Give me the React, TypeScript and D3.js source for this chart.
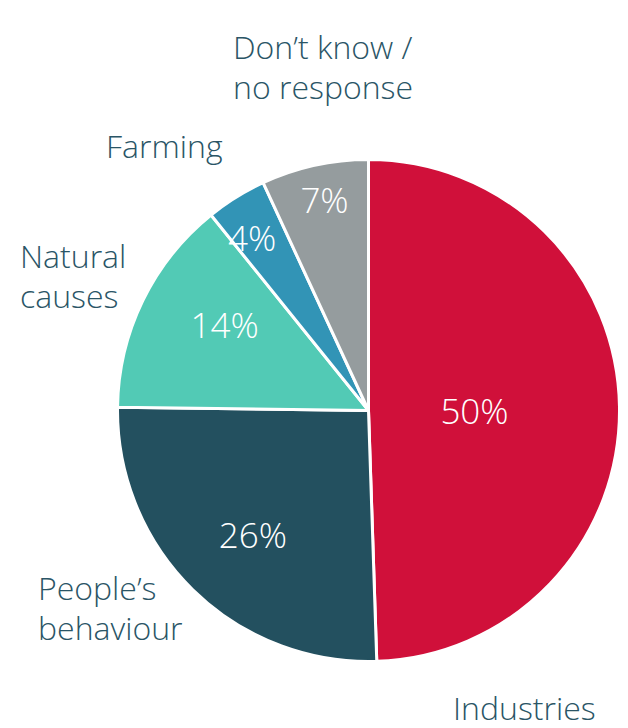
import React from "react";
import * as d3 from "d3";

const categories = ["Industries", "People\u2019s behaviour", "Natural causes", "Farming", "Don\u2019t know / no response"];
const values = [49.5, 25.75, 14, 3.9, 6.9];
const valueLabels = ["50%", "26%", "14%", "4%", "7%"];
const colors = ["#D0103A", "#23505F", "#52CAB5", "#3294B6", "#959C9E"];

const W = 628, H = 728;
const cx = 368.5, cy = 410.5, R = 251;
const labelRadius = [106, 170, 167, 208, 215];
const labelAngleShift = [1.5, -1.6, 4.6, -2.2, 0.6];
const FONT = "'Open Sans', 'Segoe UI', sans-serif";
const TEXT_COLOR = "#2A5566";

const catLayout = [
  { lines: ["Industries"], x: 453, y: 720 },
  { lines: ["People\u2019s", "behaviour"], x: 38, y: 600 },
  { lines: ["Natural", "causes"], x: 20, y: 268 },
  { lines: ["Farming"], x: 106, y: 158 },
  { lines: ["Don\u2019t know /", "no response"], x: 233, y: 59 },
];

export default function App() {
  const pie = d3.pie<number>().sort(null).value((d) => d)(values);
  const arc = d3.arc<d3.PieArcDatum<number>>().innerRadius(0).outerRadius(R);
  return (
    <svg width={W} height={H} style={{ position: "absolute", left: 0, top: 0, background: "#fff" }}>
      <g transform={`translate(${cx},${cy})`}>
        {pie.map((p, i) => (
          <path key={i} d={arc(p) || ""} fill={colors[i]} stroke="#fff" strokeWidth={3} strokeLinejoin="round" />
        ))}
        {pie.map((p, i) => {
          const a = (p.startAngle + p.endAngle) / 2 + (labelAngleShift[i] * Math.PI) / 180;
          const r = labelRadius[i];
          const x = Math.sin(a) * r;
          const y = -Math.cos(a) * r;
          return (
            <text key={i} x={x} y={y} dy="0.36em" textAnchor="middle" fill="#fff"
              fontFamily={FONT} fontWeight={300} fontSize={35}>
              {valueLabels[i]}
            </text>
          );
        })}
      </g>
      {catLayout.map((c, i) => (
        <text key={i} fill={TEXT_COLOR} fontFamily={FONT} fontWeight={300} fontSize={32} aria-label={categories[i]}>
          {c.lines.map((l, j) => (
            <tspan key={j} x={c.x} y={c.y + j * 40}>{l}</tspan>
          ))}
        </text>
      ))}
    </svg>
  );
}
